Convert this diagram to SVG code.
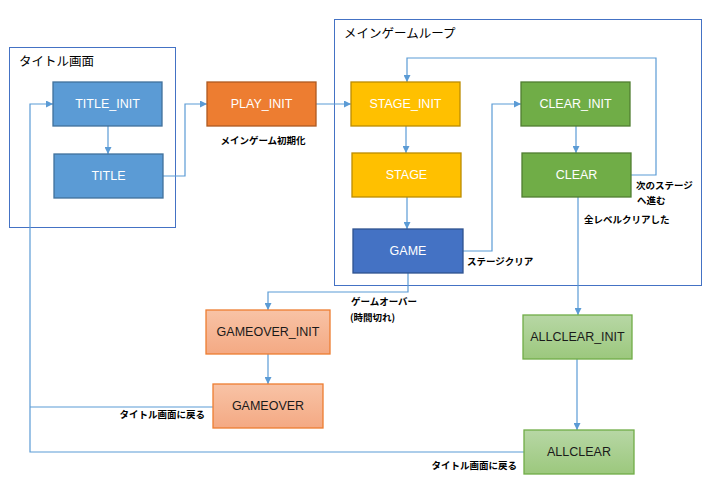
<svg xmlns="http://www.w3.org/2000/svg" width="717" height="499" viewBox="0 0 717 499">
<defs>
<marker id="ah" viewBox="0 0 10 10" refX="10" refY="5" markerWidth="7" markerHeight="7" markerUnits="userSpaceOnUse" orient="auto"><path d="M0,0 L10,5 L0,10 z" fill="#5B9BD5"/></marker>
<linearGradient id="go" x1="0" y1="0" x2="0" y2="1"><stop offset="0" stop-color="#F8C3A6"/><stop offset="1" stop-color="#F4A983"/></linearGradient>
<linearGradient id="ac" x1="0" y1="0" x2="0" y2="1"><stop offset="0" stop-color="#B7D7A5"/><stop offset="1" stop-color="#9CC87D"/></linearGradient>
</defs>
<style>
.grp{fill:none;stroke:#4472C4;stroke-width:1}
.gt{font-family:"Noto Sans CJK JP",sans-serif;font-size:12.5px;fill:#000}
.n{stroke-width:1.3}
.t{font-family:"Liberation Sans","Open Sans",sans-serif;font-size:12.5px;text-anchor:middle;dominant-baseline:central}
.w{fill:#fff}
.k{fill:#1a1a1a}
.lb{font-family:"Noto Sans CJK JP",sans-serif;font-size:9.5px;font-weight:bold;fill:#000}
.c{fill:none;stroke:#5B9BD5;stroke-width:1.2;marker-end:url(#ah)}
.c2{fill:none;stroke:#5B9BD5;stroke-width:1.2}
</style>
<rect width="717" height="499" fill="#fff"/>
<g id="group-title"><rect class="grp" x="9.5" y="47.5" width="166" height="180"/><text class="gt" x="19" y="66">タイトル画面</text></g>
<g id="group-main"><rect class="grp" x="334.5" y="19.5" width="367" height="266"/><text class="gt" x="344" y="38">メインゲームループ</text></g>
<g id="connectors">
<path class="c" d="M108,126 V154"/>
<path class="c" d="M163,176 H185 V104 H207"/>
<path class="c" d="M316,104 H351"/>
<path class="c" d="M406,126 V153"/>
<path class="c" d="M407,197 V229"/>
<path class="c" d="M463,251 H492 V104 H521"/>
<path class="c" d="M576,126 V153"/>
<path class="c" d="M631,175 H656 V58 H407 V82"/>
<path class="c" d="M408,273 V292 H268 V310"/>
<path class="c" d="M268,354 V384"/>
<path class="c" d="M578,197 V315"/>
<path class="c" d="M577,359 V430"/>
<path class="c2" d="M213,407 H30"/>
<path class="c" d="M524,452 H30 V104 H53"/>
<text class="lb" x="263" y="144" text-anchor="middle">メインゲーム初期化</text>
<text class="lb" x="636" y="189">次のステージ</text>
<text class="lb" x="637" y="204">へ進む</text>
<text class="lb" x="584" y="223">全レベルクリアした</text>
<text class="lb" x="467" y="265">ステージクリア</text>
<text class="lb" x="351" y="305">ゲームオーバー</text>
<text class="lb" x="350" y="321">(時間切れ)</text>
<text class="lb" x="205" y="418" text-anchor="end">タイトル画面に戻る</text>
<text class="lb" x="517" y="469" text-anchor="end">タイトル画面に戻る</text>
</g>
<g id="TITLE_INIT"><rect class="n" x="53" y="82" width="109" height="44" fill="#5B9BD5" stroke="#41719C"/><text class="t w" x="107.5" y="104">TITLE_INIT</text></g>
<g id="TITLE"><rect class="n" x="54" y="154" width="109" height="44" fill="#5B9BD5" stroke="#41719C"/><text class="t w" x="108.5" y="176">TITLE</text></g>
<g id="PLAY_INIT"><rect class="n" x="207" y="82" width="109" height="44" fill="#ED7D31" stroke="#AE5A21"/><text class="t w" x="261.5" y="104">PLAY_INIT</text></g>
<g id="STAGE_INIT"><rect class="n" x="351" y="82" width="109" height="44" fill="#FFC000" stroke="#BC8C00"/><text class="t w" x="405.5" y="104">STAGE_INIT</text></g>
<g id="STAGE"><rect class="n" x="352" y="153" width="109" height="44" fill="#FFC000" stroke="#BC8C00"/><text class="t w" x="406.5" y="175">STAGE</text></g>
<g id="GAME"><rect class="n" x="353" y="229" width="110" height="44" fill="#4472C4" stroke="#2F528F"/><text class="t w" x="408" y="251">GAME</text></g>
<g id="CLEAR_INIT"><rect class="n" x="521" y="82" width="109" height="44" fill="#70AD47" stroke="#507E32"/><text class="t w" x="575.5" y="104">CLEAR_INIT</text></g>
<g id="CLEAR"><rect class="n" x="522" y="153" width="109" height="44" fill="#70AD47" stroke="#507E32"/><text class="t w" x="576.5" y="175">CLEAR</text></g>
<g id="GAMEOVER_INIT"><rect class="n" x="206" y="310" width="124" height="44" fill="url(#go)" stroke="#ED7D31"/><text class="t k" x="268" y="332">GAMEOVER_INIT</text></g>
<g id="GAMEOVER"><rect class="n" x="213" y="384" width="110" height="44" fill="url(#go)" stroke="#ED7D31"/><text class="t k" x="268" y="406">GAMEOVER</text></g>
<g id="ALLCLEAR_INIT"><rect class="n" x="523" y="315" width="109" height="44" fill="url(#ac)" stroke="#70AD47"/><text class="t k" x="577.5" y="337">ALLCLEAR_INIT</text></g>
<g id="ALLCLEAR"><rect class="n" x="524" y="430" width="110" height="44" fill="url(#ac)" stroke="#70AD47"/><text class="t k" x="579" y="452">ALLCLEAR</text></g>
</svg>
